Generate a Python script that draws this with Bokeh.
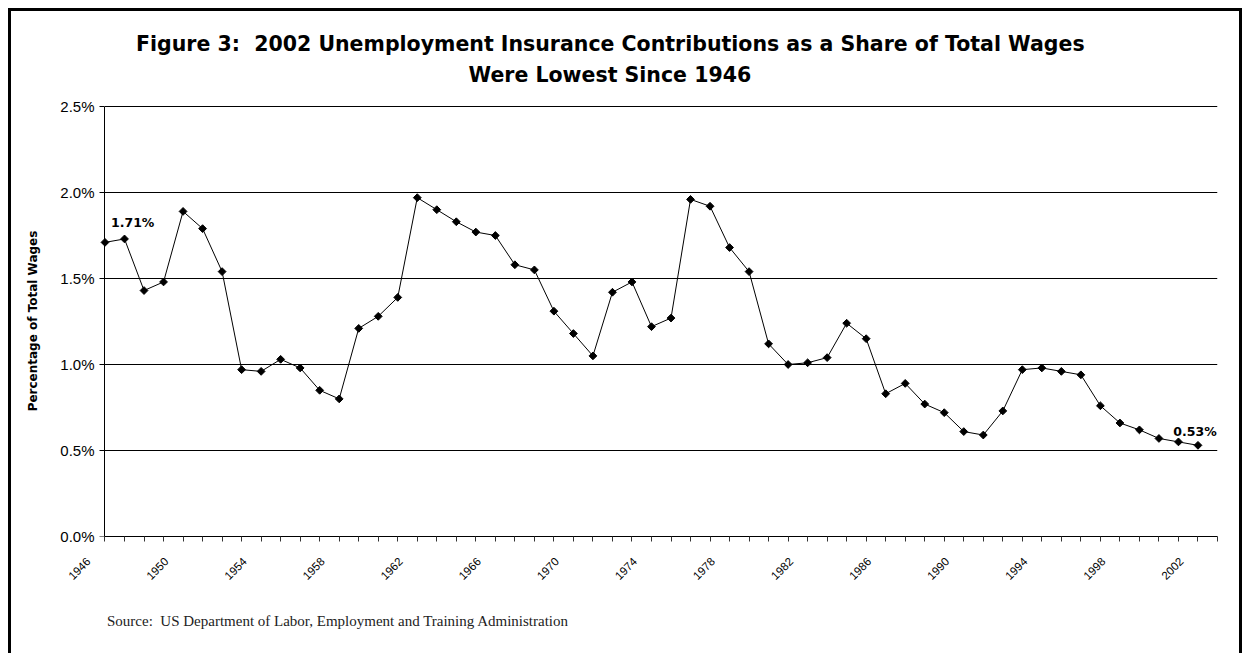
import math
from bokeh.plotting import figure
from bokeh.models import (Range1d, FixedTicker, PrintfTickFormatter, Title,
                          ColumnDataSource, CustomJSTickFormatter, LinearAxis)
from bokeh.core.properties import value
from bokeh.embed import file_html
from bokeh.resources import INLINE

# ---------------- data ----------------
years = list(range(1946, 2003))
share = [1.71, 1.73, 1.43, 1.48, 1.89, 1.79, 1.54, 0.97, 0.96, 1.03,
         0.98, 0.85, 0.80, 1.21, 1.28, 1.39, 1.97, 1.90, 1.83,
         1.77, 1.75, 1.58, 1.55, 1.31, 1.18, 1.05, 1.42, 1.48, 1.22,
         1.27, 1.96, 1.92, 1.68, 1.54, 1.12, 1.00, 1.01, 1.04,
         1.24, 1.15, 0.83, 0.89, 0.77, 0.72, 0.61, 0.59, 0.73, 0.97,
         0.98, 0.96, 0.94, 0.76, 0.66, 0.62, 0.57, 0.55, 0.53]
tick_years = list(range(1946, 2004))
label_years = list(range(1946, 2003, 4))
y_ticks = [0.0, 0.5, 1.0, 1.5, 2.0, 2.5]

NB = "\u00a0"
title_1 = "Figure 3: " + NB + "2002 Unemployment Insurance Contributions as a Share of Total Wages"
title_2 = "Were Lowest Since 1946"
y_title = "Percentage of Total Wages"
source_note = "Source: " + NB + "US Department of Labor, Employment and Training Administration"

# year labels sit a little left of their tick (Excel style)
shift = 0.845
label_pos = [y - shift for y in label_years]

# ---------------- figure ----------------
y_pad = y_ticks[-1] / 430.0          # one pixel of head-room so the 2.5% line is drawn
p = figure(width=1234, height=645,
           x_range=Range1d(label_pos[0], tick_years[-1]),
           y_range=Range1d(y_ticks[0], y_ticks[-1] + y_pad),
           output_backend="svg", toolbar_location=None,
           min_border_left=77, min_border_right=28,
           min_border_top=94, min_border_bottom=120)
p.margin = (8, 0, 0, 8)
p.styles = {"border-left": "3px solid black", "border-top": "3px solid black",
            "border-right": "3px solid black"}
p.outline_line_color = None
p.background_fill_color = "white"
p.border_fill_color = "white"

p.xgrid.visible = False
p.ygrid.visible = False

# horizontal gridlines from the first to the last year slot
grid_src = ColumnDataSource(dict(y=y_ticks[1:]))
p.segment(x0=tick_years[0], x1=tick_years[-1], y0="y", y1="y", source=grid_src,
          line_color="black", line_width=1)

# y axis labels (left panel)
p.yaxis.ticker = FixedTicker(ticks=y_ticks)
p.yaxis.formatter = PrintfTickFormatter(format="%.1f%%")
p.yaxis.axis_line_color = None
p.yaxis.major_tick_line_color = None
p.yaxis.minor_tick_line_color = None
p.yaxis.major_tick_in = 0
p.yaxis.major_tick_out = 0
p.yaxis.major_label_standoff = -6
p.yaxis.major_label_text_font = "Liberation Sans"
p.yaxis.major_label_text_font_size = "15px"
p.yaxis.major_label_text_color = "black"
p.yaxis.axis_label = y_title
p.yaxis.axis_label_text_font = "DejaVu Sans"
p.yaxis.axis_label_text_font_style = "bold"
p.yaxis.axis_label_text_font_size = "12px"
p.yaxis.axis_label_text_color = "black"
p.yaxis.axis_label_standoff = 17

# y axis line + ticks, drawn at the 1946 position
y_line = LinearAxis(fixed_location=tick_years[0], bounds=(y_ticks[0], y_ticks[-1]),
                    ticker=FixedTicker(ticks=y_ticks),
                    formatter=CustomJSTickFormatter(code="return '';"),
                    axis_line_color="black", major_tick_line_color="black",
                    minor_tick_line_color=None, major_tick_in=5, major_tick_out=0,
                    major_label_text_font_size="0px", major_label_standoff=0)
p.add_layout(y_line, "right")

# x axis 1: a tick mark at every year, no labels
p.xaxis.bounds = (tick_years[0], tick_years[-1])
p.xaxis.ticker = FixedTicker(ticks=tick_years)
p.xaxis.formatter = CustomJSTickFormatter(code="return '';")
p.xaxis.axis_line_color = "black"
p.xaxis.major_tick_in = 0
p.xaxis.major_tick_out = 5
p.xaxis.major_tick_line_color = "#333333"
p.xaxis.minor_tick_line_color = None
p.xaxis.major_label_standoff = 0
p.xaxis.major_label_text_font_size = "0px"

# x axis 2: slanted year labels every 4 years
lab_axis = LinearAxis(
    ticker=FixedTicker(ticks=label_pos),
    formatter=CustomJSTickFormatter(code="return String(Math.round(tick + %s));" % shift),
    axis_line_color=None, major_tick_line_color=None, minor_tick_line_color=None,
    major_tick_in=0, major_tick_out=0,
    major_label_orientation=math.pi / 4, major_label_standoff=18,
    major_label_text_font="Liberation Sans", major_label_text_font_size="11.5px",
    major_label_text_color="black")
p.add_layout(lab_axis, "below")

# ---------------- series ----------------
src = ColumnDataSource(dict(year=years, share=share))
p.line("year", "share", source=src, line_color="black", line_width=1)
p.scatter("year", "share", source=src, marker="square", angle=math.pi / 4,
          size=5.5, fill_color="black", line_color="black")

first = ColumnDataSource(dict(x=[years[0]], y=[share[0]], t=["%.2f%%" % share[0]]))
last = ColumnDataSource(dict(x=[years[-1]], y=[share[-1]], t=["%.2f%%" % share[-1]]))
p.text("x", "y", text="t", source=first, x_offset=6, y_offset=-20,
       text_align="left", text_baseline="middle",
       text_font=value("DejaVu Sans"), text_font_style="bold",
       text_font_size="12.5px", text_color="black")
p.text("x", "y", text="t", source=last, x_offset=-3, y_offset=-14,
       text_align="center", text_baseline="middle",
       text_font=value("DejaVu Sans"), text_font_style="bold",
       text_font_size="12.5px", text_color="black")

# ---------------- titles (stacked above the frame) ----------------
FRAME_SHIFT = 105 - 88.5   # titles are offset from the frame's left edge
t2 = Title(text=title_2, align="left", offset=363.5 + FRAME_SHIFT, vertical_align="middle",
           standoff=35.4, text_font="DejaVu Sans", text_font_style="bold",
           text_font_size="20.5px", text_color="black")
p.add_layout(t2, "above")
t1 = Title(text=title_1, align="left", offset=31 + FRAME_SHIFT, vertical_align="middle",
           standoff=-24.8, text_font="DejaVu Sans", text_font_style="bold",
           text_font_size="20.5px", text_color="black")
p.add_layout(t1, "above")

# source note below the axes
src_note = Title(text=source_note, align="left", offset=2 + FRAME_SHIFT, vertical_align="bottom",
                 standoff=49.4, text_font="Liberation Serif", text_font_style="normal",
                 text_font_size="15px", text_color="#222222")
p.add_layout(src_note, "below")

open("out.html", "w").write(file_html(p, INLINE))
